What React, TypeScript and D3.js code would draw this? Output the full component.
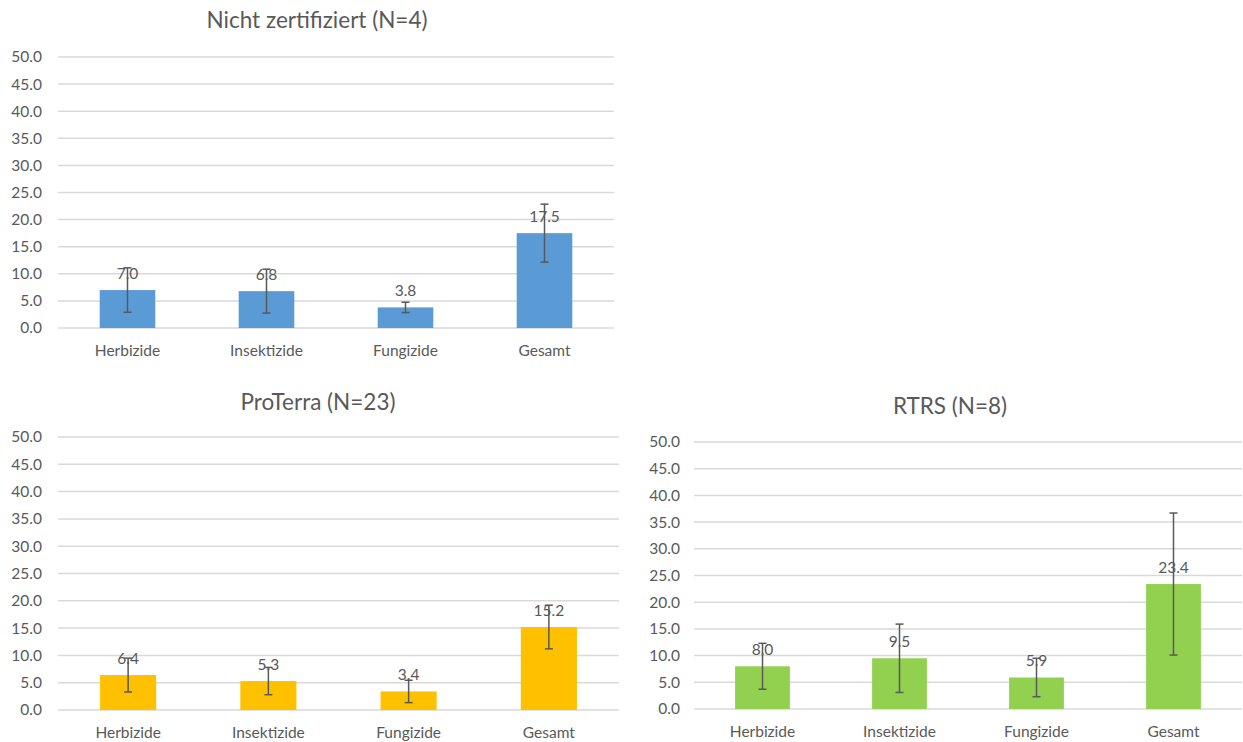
import React from "react";
import * as d3 from "d3";

const categories = ["Herbizide", "Insektizide", "Fungizide", "Gesamt"];
const yTicks = [0, 5, 10, 15, 20, 25, 30, 35, 40, 45, 50];

const nichtValues = [7.0, 6.8, 3.8, 17.5];
const nichtErrors = [4.1, 4.05, 0.95, 5.35];

const proTerraValues = [6.4, 5.3, 3.4, 15.2];
const proTerraErrors = [3.1, 2.5, 2.05, 4.0];

const rtrsValues = [8.0, 9.5, 5.9, 23.4];
const rtrsErrors = [4.3, 6.4, 3.6, 13.3];

const FONT = "Lato, 'Open Sans', sans-serif";
const TEXT = "#595959";
const GRID = "#D9D9D9";
const ERR = "#595959";

type PanelProps = {
  title: string;
  values: number[];
  errors: number[];
  color: string;
  x0: number;
  x1: number;
  yTop: number;
  yBottom: number;
  titleX: number;
  titleY: number;
  labelRight: number;
};

function Panel(p: PanelProps) {
  const x = d3.scaleBand<string>().domain(categories).range([p.x0, p.x1]).paddingInner(0.6).paddingOuter(0.3);
  const y = d3.scaleLinear().domain([0, 50]).range([p.yBottom, p.yTop]);
  const bw = x.bandwidth();
  return (
    <g>
      <text x={p.titleX} y={p.titleY} textAnchor="middle" fontSize={22.5} fill={TEXT} fontFamily={FONT}>
        {p.title}
      </text>
      {yTicks.map((t) => (
        <g key={t}>
          <line x1={p.x0} x2={p.x1} y1={y(t)} y2={y(t)} stroke={GRID} strokeWidth={1.5} />
          <text x={p.labelRight} y={y(t)} dy="0.35em" textAnchor="end" fontSize={15.5} fill={TEXT} fontFamily={FONT}>
            {d3.format(".1f")(t)}
          </text>
        </g>
      ))}
      {categories.map((c, i) => {
        const v = p.values[i];
        const e = p.errors[i];
        const bx = x(c)!;
        const cx = bx + bw / 2;
        return (
          <g key={c}>
            <rect x={bx} y={y(v)} width={bw} height={y(0) - y(v)} fill={p.color} />
            <text x={cx} y={y(v) - 11} textAnchor="middle" fontSize={15.5} fill={TEXT} fontFamily={FONT}>
              {d3.format(".1f")(v)}
            </text>
            <line x1={cx} x2={cx} y1={y(v + e)} y2={y(v - e)} stroke={ERR} strokeWidth={1.5} />
            <line x1={cx - 4} x2={cx + 4} y1={y(v + e)} y2={y(v + e)} stroke={ERR} strokeWidth={1.5} />
            <line x1={cx - 4} x2={cx + 4} y1={y(v - e)} y2={y(v - e)} stroke={ERR} strokeWidth={1.5} />
            <text x={cx} y={p.yBottom + 23} dy="0.35em" textAnchor="middle" fontSize={15.5} fill={TEXT} fontFamily={FONT}>
              {c}
            </text>
          </g>
        );
      })}
    </g>
  );
}

export default function App() {
  return (
    <svg
      width={1243}
      height={742}
      style={{ position: "absolute", left: 0, top: 0, background: "#fff" }}
    >
      <rect x={0} y={0} width={1243} height={742} fill="#fff" />
      <Panel
        title="Nicht zertifiziert (N=4)"
        values={nichtValues}
        errors={nichtErrors}
        color="#5B9BD5"
        x0={58}
        x1={614}
        yTop={57}
        yBottom={328}
        titleX={317}
        titleY={28}
        labelRight={42}
      />
      <Panel
        title="ProTerra (N=23)"
        values={proTerraValues}
        errors={proTerraErrors}
        color="#FFC000"
        x0={58}
        x1={619}
        yTop={437}
        yBottom={710}
        titleX={318}
        titleY={410}
        labelRight={42}
      />
      <Panel
        title="RTRS (N=8)"
        values={rtrsValues}
        errors={rtrsErrors}
        color="#92D050"
        x0={694}
        x1={1242}
        yTop={442}
        yBottom={709}
        titleX={950}
        titleY={414}
        labelRight={680}
      />
    </svg>
  );
}
